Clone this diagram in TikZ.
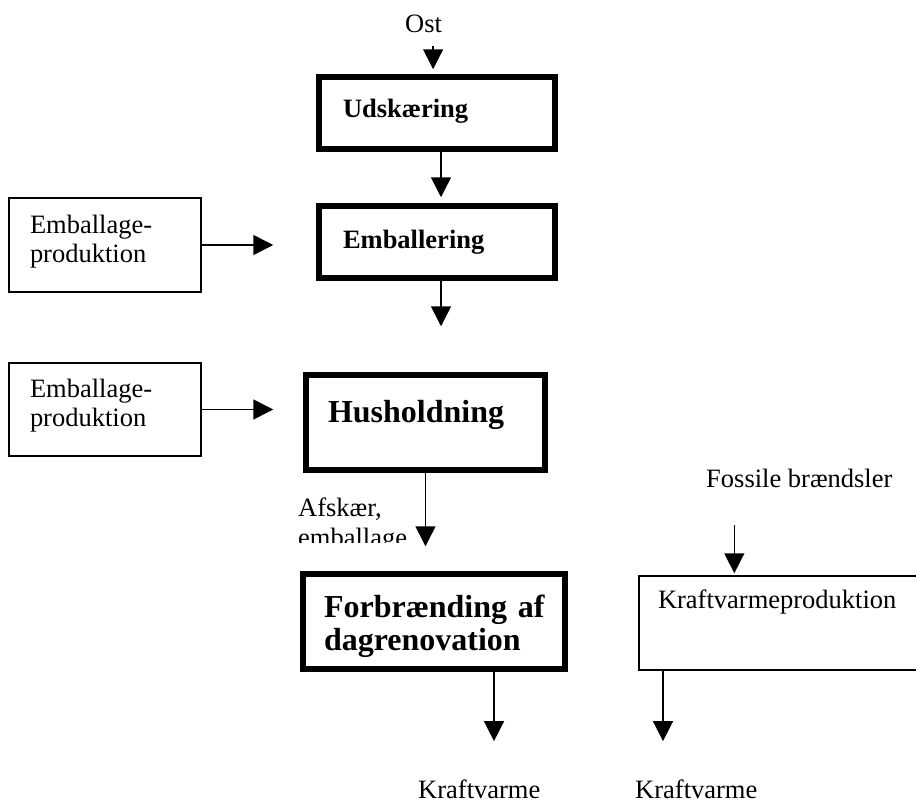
\documentclass[tikz,border=0pt]{standalone}
\usepackage{fontspec}
\setmainfont{Liberation Serif}
\usetikzlibrary{arrows.meta, positioning}

\begin{document}
\begin{tikzpicture}[x=1pt,y=-1pt,>={Triangle[length=20pt,width=20pt]},
  procbox/.style={draw,line width=5.5pt,rectangle,align=left,font=\bfseries\fontsize{26.5}{29.5}\selectfont},
  bigbox/.style={procbox,font=\bfseries\fontsize{32}{33}\selectfont},
  srcbox/.style={draw,line width=1.5pt,rectangle,align=left,font=\fontsize{26.5}{29.5}\selectfont},
  txt/.style={inner sep=0pt,anchor=base west,align=left,font=\fontsize{26.5}{29.5}\selectfont},
  flow/.style={->,line width=1.5pt}]
  \useasboundingbox (0,0) rectangle (916,803);
  \clip (0,0) rectangle (916,803);

  % main chain
  \node[procbox,minimum width=236pt,minimum height=72pt,inner xsep=24pt,text width=188pt,text height=20pt,text depth=12pt] (udsk) at (437,113) {Udskæring};
  \node[procbox,minimum width=236pt,minimum height=72pt,inner xsep=24pt,text width=188pt,text height=20pt,text depth=8pt] (emb) at (437,242) {Emballering};
  \node[bigbox,minimum width=239pt,minimum height=95pt,inner xsep=22pt,text width=195pt,text height=22pt,text depth=23pt] (hush) at (425.5,422.5) {Husholdning};
  \node[bigbox,minimum width=262pt,minimum height=95pt,inner xsep=21pt,text width=220pt,text height=22pt,text depth=31pt] (forb) at (434,621.5) {Forbrænding~af\\dagrenovation};

  % side boxes
  \node[srcbox,minimum width=192pt,minimum height=94pt,inner xsep=21pt,text width=150pt,text height=18pt,text depth=42pt] (pack1) at (105,245) {Emballage-\\produktion};
  \node[srcbox,minimum width=192pt,minimum height=93pt,inner xsep=21pt,text width=150pt,text height=18pt,text depth=43pt] (pack2) at (105,409.5) {Emballage-\\produktion};
  \node[srcbox,minimum width=291pt,minimum height=94pt,inner xsep=19pt,text width=253pt,text height=18pt,text depth=48pt] (chp) at (784.5,623) {Kraftvarmeproduktion};

  % free texts
  \node[txt] (ost) at (405,32) {Ost};
  \node[txt] (fossil) at (706,487) {Fossile brændsler};
  \node[txt] (heat1) at (418,798) {Kraftvarme};
  \node[txt] (heat2) at (635,798) {Kraftvarme};
  \begin{scope}
    \clip (280,490) rectangle (420,542);
    \node[txt] (waste) at (298,546) {Afskær,\\emballage};
  \end{scope}

  % flows
  \draw[flow,shorten <=14pt,shorten >=5pt] ([xshift=9.5pt]ost.south) -- ([xshift=9.5pt]ost.south |- udsk.north);
  \draw[flow,shorten >=6pt] ([xshift=4pt]udsk.south) -- ([xshift=4pt]emb.north);
  \draw[flow,shorten >=46pt] ([xshift=4pt]emb.south) -- ([xshift=4pt]emb.south |- hush.north);
  \draw[flow,shorten >=25pt] (hush.south) -- (hush.south |- forb.north);
  \draw[flow,shorten >=43pt] (pack1.east) -- (pack1.east -| emb.west);
  \draw[flow,shorten >=30pt] (pack2.east) -- (pack2.east -| hush.west);
  \draw[flow,shorten <=38pt,shorten >=2pt] ([xshift=-65pt]fossil.south) -- ([xshift=-65pt]fossil.south |- chp.north);
  \draw[flow,shorten >=38pt] ([xshift=60pt]forb.south) -- ([xshift=60pt]forb.south |- heat1.north);
  \draw[flow,shorten >=38pt] ([xshift=-121.5pt]chp.south) -- ([xshift=-121.5pt]chp.south |- heat2.north);
\end{tikzpicture}
\end{document}
